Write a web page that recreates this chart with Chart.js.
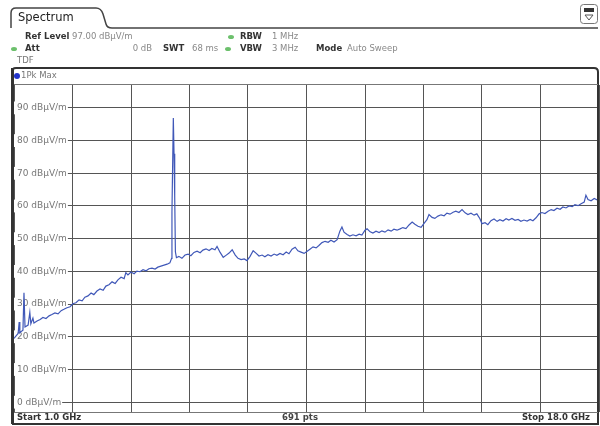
<!DOCTYPE html>
<html>
<head>
<meta charset="utf-8">
<script src="https://cdn.jsdelivr.net/npm/chart.js@4"></script>
<style>
  body { margin: 0; background: #fff; }
  #wrap { width: 600px; height: 426px; }
</style>
</head>
<body>
<div id="wrap"><canvas id="spec" width="600" height="426"></canvas></div>
<script>
// trace (GHz / dBuV/m)
const freqGHz = [
  1.00, 1.06, 1.12, 1.15, 1.17, 1.23, 1.26, 1.29, 1.32, 1.41, 1.46, 1.49, 1.55, 1.58, 1.67, 1.76,
  1.84, 1.93, 2.02, 2.10, 2.19, 2.28, 2.37, 2.45, 2.54, 2.63, 2.71, 2.80, 2.89, 2.98, 3.06, 3.15,
  3.24, 3.32, 3.41, 3.50, 3.59, 3.67, 3.76, 3.85, 3.94, 4.02, 4.11, 4.20, 4.25, 4.31, 4.40, 4.49,
  4.57, 4.66, 4.75, 4.84, 4.92, 5.01, 5.10, 5.18, 5.27, 5.36, 5.45, 5.53, 5.58, 5.59, 5.63, 5.65,
  5.67, 5.69, 5.72, 5.79, 5.88, 5.97, 6.06, 6.14, 6.23, 6.32, 6.41, 6.49, 6.58, 6.67, 6.75, 6.84,
  6.90, 6.99, 7.08, 7.16, 7.25, 7.34, 7.43, 7.51, 7.60, 7.69, 7.77, 7.86, 7.95, 8.04, 8.12, 8.21,
  8.29, 8.38, 8.47, 8.56, 8.64, 8.73, 8.82, 8.91, 8.99, 9.08, 9.17, 9.25, 9.34, 9.43, 9.51, 9.60,
  9.69, 9.78, 9.86, 9.95, 10.04, 10.13, 10.21, 10.30, 10.39, 10.47, 10.53, 10.59, 10.68, 10.76, 10.85, 10.94,
  11.03, 11.11, 11.20, 11.26, 11.35, 11.43, 11.52, 11.61, 11.69, 11.78, 11.87, 11.96, 12.04, 12.13, 12.22, 12.30,
  12.39, 12.48, 12.57, 12.65, 12.74, 12.83, 12.91, 13.00, 13.06, 13.15, 13.23, 13.32, 13.41, 13.50, 13.58, 13.67,
  13.76, 13.84, 13.93, 14.02, 14.11, 14.19, 14.28, 14.37, 14.45, 14.54, 14.60, 14.69, 14.77, 14.86, 14.95, 15.04,
  15.12, 15.21, 15.30, 15.38, 15.47, 15.56, 15.65, 15.73, 15.82, 15.91, 16.00, 16.08, 16.17, 16.26, 16.34, 16.43,
  16.52, 16.61, 16.69, 16.78, 16.87, 16.95, 17.04, 17.13, 17.22, 17.30, 17.39, 17.48, 17.57, 17.62, 17.68, 17.77,
  17.86, 17.94, 18.00
];
const levelDb = [
  19.5, 20.3, 21.0, 24.5, 21.2, 21.8, 22.0, 33.5, 23.0, 23.6, 27.5, 24.0, 25.7, 24.2, 24.8, 25.3,
  25.9, 25.6, 26.4, 26.8, 27.3, 27.0, 28.0, 28.4, 28.9, 29.2, 30.1, 30.4, 31.3, 31.0, 32.1, 32.5,
  33.4, 32.9, 34.0, 34.6, 34.2, 35.5, 35.9, 36.8, 36.3, 37.4, 38.2, 37.8, 39.6, 38.9, 39.8, 39.3,
  40.1, 39.9, 40.5, 40.2, 40.8, 41.0, 40.7, 41.3, 41.6, 41.9, 42.2, 42.6, 44.0, 58.0, 86.9, 76.0,
  63.0, 46.0, 44.2, 44.6, 44.0, 45.0, 45.3, 44.8, 45.8, 46.2, 45.7, 46.5, 46.9, 46.4, 47.0, 46.6,
  47.6, 45.8, 44.3, 44.9, 45.6, 46.6, 45.0, 44.0, 43.6, 43.8, 43.3, 44.6, 46.3, 45.5, 44.7, 45.0,
  44.5, 45.1, 44.7, 45.3, 44.9, 45.5, 45.1, 45.9, 45.4, 46.8, 47.4, 46.3, 45.9, 45.5, 46.1, 46.8,
  47.5, 47.2, 47.9, 48.8, 49.2, 48.9, 49.5, 49.0, 49.7, 52.3, 53.6, 52.0, 51.3, 50.8, 51.2, 50.9,
  51.4, 51.1, 52.6, 53.0, 52.1, 51.7, 52.3, 51.9, 52.4, 52.0, 52.7, 52.3, 52.9, 52.6, 53.0, 53.4,
  53.1, 54.2, 55.1, 54.4, 53.8, 53.5, 54.6, 55.8, 57.4, 56.5, 56.2, 56.9, 57.3, 57.0, 57.8, 57.5,
  58.1, 58.4, 58.0, 58.9, 57.9, 57.4, 57.8, 57.2, 57.6, 56.1, 54.6, 54.9, 54.3, 55.5, 56.0, 55.3,
  55.8, 55.4, 56.1, 55.7, 56.2, 55.6, 55.9, 55.3, 55.7, 55.4, 55.9, 55.5, 56.4, 57.6, 58.0, 57.7,
  58.4, 58.9, 58.6, 59.3, 59.0, 59.7, 59.4, 60.0, 59.8, 60.4, 60.1, 60.7, 61.2, 63.3, 62.0, 61.6,
  62.3, 61.9, 62.4
];
const freqGrid = [1.0, 2.7, 4.4, 6.1, 7.8, 9.5, 11.2, 12.9, 14.6, 16.3, 18.0];
const levelGrid = [0, 10, 20, 30, 40, 50, 60, 70, 80, 90];

const FONT = '"DejaVu Sans", sans-serif';

function dot(ctx, x, y, color, rx, ry) {
  ctx.fillStyle = color;
  ctx.beginPath();
  ctx.ellipse(x, y, rx, ry, 0, 0, Math.PI * 2);
  ctx.fill();
}

const analyzerFrame = {
  id: 'analyzerFrame',
  afterDraw(chart) {
    const ctx = chart.ctx;
    const a = chart.chartArea;
    ctx.save();

    // Spectrum tab + rule under it
    ctx.strokeStyle = '#444';
    ctx.lineWidth = 1.5;
    ctx.beginPath();
    ctx.moveTo(11, 28);
    ctx.lineTo(11, 13);
    ctx.quadraticCurveTo(11, 8, 16, 8);
    ctx.lineTo(96, 8);
    ctx.quadraticCurveTo(101, 8, 103, 14);
    ctx.lineTo(106, 24);
    ctx.quadraticCurveTo(107, 28, 112, 28);
    ctx.lineTo(598, 28);
    ctx.stroke();

    // icon top right
    ctx.fillStyle = '#fff';
    ctx.lineWidth = 1;
    ctx.strokeStyle = '#777';
    ctx.beginPath();
    ctx.roundRect(580.5, 4.5, 17, 19, 3);
    ctx.fill();
    ctx.stroke();
    ctx.fillStyle = '#333';
    ctx.fillRect(584, 8, 10, 4);
    ctx.strokeStyle = '#555';
    ctx.beginPath();
    ctx.moveTo(585, 15); ctx.lineTo(593, 15); ctx.lineTo(589, 20); ctx.closePath();
    ctx.stroke();

    ctx.textBaseline = 'middle';
    ctx.textAlign = 'left';
    ctx.fillStyle = '#222';
    ctx.font = '11.5px ' + FONT;
    ctx.fillText('Spectrum', 18, 18);

    const bold = '700 8.5px ' + FONT;
    const reg = '8.5px ' + FONT;
    const put = (t, x, y, f, c, al) => {
      ctx.font = f; ctx.fillStyle = c; ctx.textAlign = al || 'left';
      ctx.fillText(t, x, y);
    };
    const green = '#6cc06c';
    put('Ref Level', 25, 37, bold, '#333');
    put('97.00 dB\u00b5V/m', 72, 37, reg, '#888');
    dot(ctx, 231, 37, green, 3, 2);
    put('RBW', 240, 37, bold, '#333');
    put('1 MHz', 272, 37, reg, '#888');

    dot(ctx, 14, 49, green, 3, 2);
    put('Att', 25, 49, bold, '#333');
    put('0 dB', 152, 49, reg, '#888', 'right');
    put('SWT', 163, 49, bold, '#333');
    put('68 ms', 192, 49, reg, '#888');
    dot(ctx, 228, 49, green, 3, 2);
    put('VBW', 240, 49, bold, '#333');
    put('3 MHz', 272, 49, reg, '#888');
    put('Mode', 316, 49, bold, '#333');
    put('Auto Sweep', 347, 49, reg, '#888');
    put('TDF', 17, 61, reg, '#777');

    // trace window frame
    ctx.strokeStyle = '#333';
    ctx.lineWidth = 2;
    ctx.beginPath();
    ctx.moveTo(12, 424);
    ctx.lineTo(12, 72);
    ctx.quadraticCurveTo(12, 68, 16, 68);
    ctx.lineTo(594, 68);
    ctx.quadraticCurveTo(598, 68, 598, 72);
    ctx.lineTo(598, 424);
    ctx.lineTo(12, 424);
    ctx.stroke();
    ctx.fillStyle = '#333';
    ctx.fillRect(11, 68, 3, 356);

    ctx.strokeStyle = '#777';
    ctx.lineWidth = 1;
    ctx.beginPath();
    ctx.moveTo(14, a.top - 0.5); ctx.lineTo(598, a.top - 0.5);
    ctx.moveTo(14, a.bottom + 0.5); ctx.lineTo(598, a.bottom + 0.5);
    ctx.stroke();

    dot(ctx, 17, 76, '#2233cc', 3, 3);
    put('1Pk Max', 21, 76, reg, '#777');

    put('Start 1.0 GHz', 17, 418, bold, '#333');
    put('691 pts', 300, 418, bold, '#444', 'center');
    put('Stop 18.0 GHz', 590, 418, bold, '#333', 'right');
    ctx.restore();
  }
};

new Chart(document.getElementById('spec'), {
  type: 'line',
  data: {
    datasets: [{
      label: '1Pk Max',
      data: freqGHz.map((f, i) => ({ x: f, y: levelDb[i] })),
      borderColor: '#4058b8',
      borderWidth: 1.2,
      pointRadius: 0,
      tension: 0,
      fill: false
    }]
  },
  options: {
    responsive: false,
    animation: false,
    layout: { padding: { left: 14, top: 85, right: 1, bottom: 14 } },
    plugins: { legend: { display: false }, tooltip: { enabled: false } },
    scales: {
      x: {
        type: 'linear',
        min: 1,
        max: 18,
        afterBuildTicks: s => { s.ticks = freqGrid.map(v => ({ value: v })); },
        afterFit: s => { s.height = 0; },
        ticks: { display: false },
        grid: { color: '#555', lineWidth: 1, drawTicks: false },
        border: { display: false }
      },
      y: {
        min: -3,
        max: 97,
        afterBuildTicks: s => { s.ticks = levelGrid.map(v => ({ value: v })); },
        afterFit: s => { s.width = 0; },
        ticks: {
          mirror: true,
          padding: 3,
          color: '#777',
          font: { family: FONT, size: 9 },
          showLabelBackdrop: true,
          backdropColor: '#fff',
          backdropPadding: { left: 4, right: 1, top: 1, bottom: 1 },
          callback: v => v + ' dB\u00b5V/m'
        },
        grid: { color: '#555', lineWidth: 1, drawTicks: false },
        border: { display: false }
      }
    }
  },
  plugins: [analyzerFrame]
});
</script>
</body>
</html>
